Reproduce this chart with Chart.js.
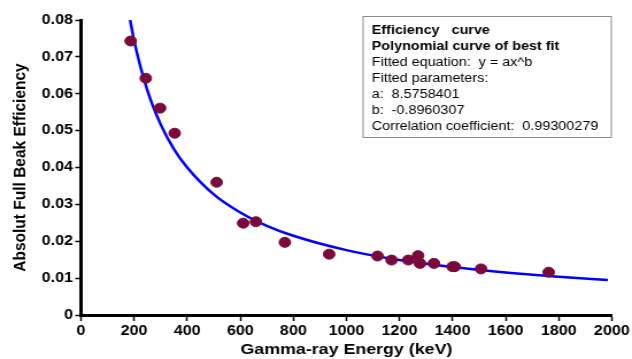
<!DOCTYPE html>
<html>
<head>
<meta charset="utf-8">
<script src="https://cdn.jsdelivr.net/npm/chart.js@4"></script>
<style>
  html, body { margin: 0; padding: 0; background: #fff; overflow: hidden; }
  /* the reference is stretched sideways a little, so draw narrow and stretch */
  #wrap { width: 550px; height: 359px; transform: scaleX(1.1491); transform-origin: 0 0; }
</style>
</head>
<body>
<div id="wrap"><canvas id="effChart" width="550" height="359"></canvas></div>
<script>
// measured points (energy keV, efficiency)
const energies = [187, 244, 298, 353, 511, 611, 659, 768, 935, 1117, 1170, 1233, 1270, 1277, 1330, 1400, 1408, 1507, 1762];
const efficiencies = [0.0743, 0.0642, 0.0561, 0.0493, 0.0360, 0.0249, 0.0253, 0.0197, 0.0165, 0.0160, 0.0149, 0.0149, 0.0161, 0.0140, 0.0140, 0.0131, 0.0131, 0.0125, 0.0116];

// fitted curve
const curveX = [185, 200, 250, 300, 350, 400, 500, 600, 700, 800, 1000, 1200, 1400, 1600, 1800, 1985];
const curveY = [0.0800, 0.0744, 0.0609, 0.0517, 0.0450, 0.0400, 0.0327, 0.0278, 0.0242, 0.0215, 0.0176, 0.0149, 0.0130, 0.0115, 0.0104, 0.0095];

const boxLines = [
  ['Efficiency   curve', true],
  ['Polynomial curve of best fit', true],
  ['Fitted equation:  y = ax^b', false],
  ['Fitted parameters:', false],
  ['a:  8.5758401', false],
  ['b:  -0.8960307', false],
  ['Correlation coefficient:  0.99300279', false]
];

const infoBox = {
  id: 'infoBox',
  afterDraw(chart) {
    const ctx = chart.ctx;
    ctx.save();
    ctx.strokeStyle = '#8a8a8a';
    ctx.lineWidth = 1;
    ctx.fillStyle = '#fff';
    ctx.fillRect(316, 16.5, 216, 121);
    ctx.strokeRect(316, 16.5, 216, 121);
    ctx.fillStyle = '#000';
    ctx.textBaseline = 'middle';
    boxLines.forEach((l, i) => {
      ctx.font = (l[1] ? 'bold ' : '') + '12.5px "Liberation Sans", Arial, sans-serif';
      ctx.fillText(l[0], 323.5, 31 + i * 16);
    });
    ctx.restore();
  }
};

const pts = energies.map((x, i) => ({ x: x, y: efficiencies[i] }));
const curve = curveX.map((x, i) => ({ x: x, y: curveY[i] }));

const tickFont = { family: '"Liberation Sans", Arial, sans-serif', size: 14, weight: 'bold' };
const titleFont = { family: '"Liberation Sans", Arial, sans-serif', size: 15.5, weight: 'bold' };

new Chart(document.getElementById('effChart'), {
  type: 'scatter',
  data: {
    datasets: [
      {
        label: 'Fit',
        type: 'line',
        data: curve,
        borderColor: '#0000ff',
        borderWidth: 2.5,
        pointRadius: 0,
        fill: false,
        cubicInterpolationMode: 'monotone',
        order: 2
      },
      {
        label: 'Measured',
        data: pts,
        backgroundColor: '#7a0a3c',
        borderColor: '#7a0a3c',
        pointRadius: 5,
        pointHoverRadius: 5,
        order: 1
      }
    ]
  },
  options: {
    responsive: false,
    animation: false,
    events: [],
    layout: { padding: { top: 20, right: 17.4, left: 0, bottom: 0 } },
    plugins: {
      legend: { display: false },
      tooltip: { enabled: false }
    },
    scales: {
      x: {
        type: 'linear',
        min: 0,
        max: 2000,
        ticks: { stepSize: 200, color: '#000', font: tickFont, padding: 2, maxRotation: 0, callback: v => String(v) },
        grid: { drawOnChartArea: false, tickLength: 6, tickColor: '#000', tickWidth: 1.5 },
        border: { color: '#000', width: 3 },
        title: {
          display: true,
          text: 'Gamma-ray Energy (keV)',
          color: '#000',
          font: titleFont,
          padding: { top: 0, bottom: 0 }
        },
        afterFit(s) { s.height = 44; }
      },
      y: {
        min: 0,
        max: 0.08,
        ticks: {
          stepSize: 0.01,
          color: '#000',
          font: tickFont,
          padding: 2,
          callback: v => (Math.round(v * 100) / 100).toString()
        },
        grid: { drawOnChartArea: false, tickLength: 5, tickColor: '#000', tickWidth: 1.5 },
        border: { color: '#000', width: 3 },
        title: {
          display: true,
          text: 'Absolut Full Beak Efficiency',
          color: '#000',
          font: titleFont,
          padding: { top: 8, bottom: 0 }
        },
        afterFit(s) { s.width = 70.5; }
      }
    }
  },
  plugins: [infoBox]
});
</script>
</body>
</html>
